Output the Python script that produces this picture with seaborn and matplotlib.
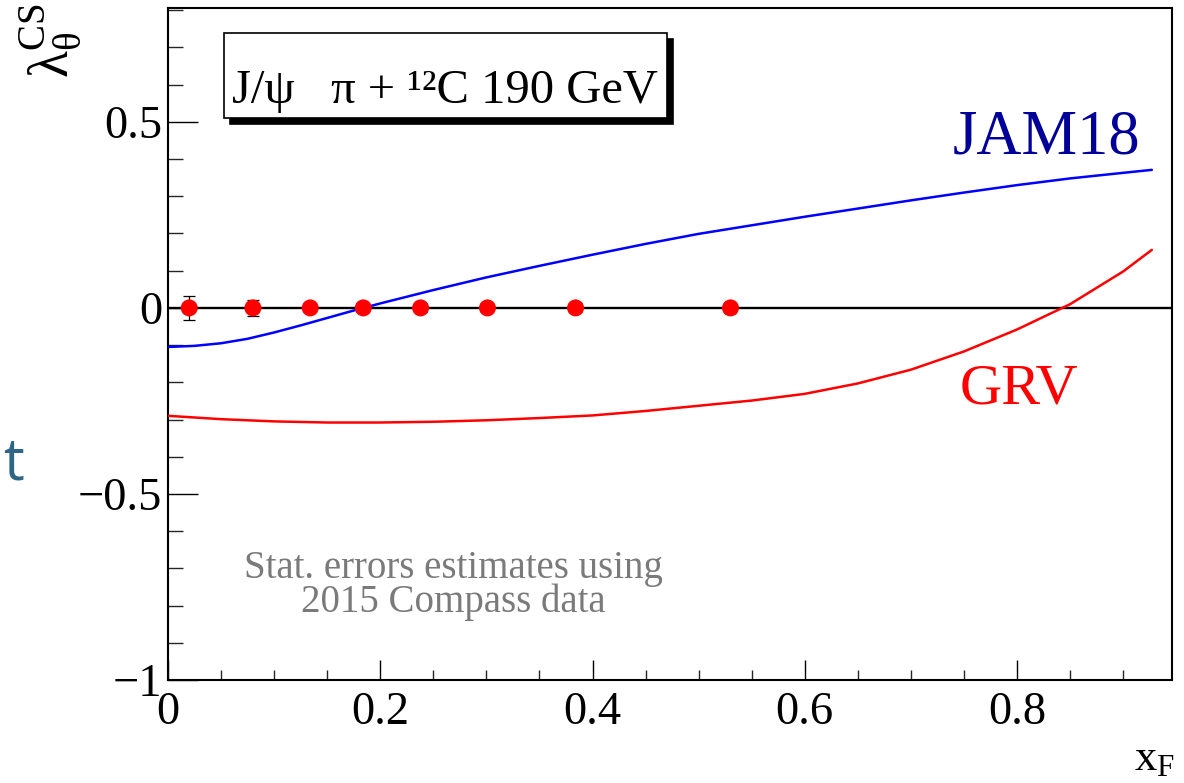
import matplotlib
matplotlib.use("Agg")
import matplotlib.pyplot as plt
import seaborn as sns
import pandas as pd
from matplotlib.patches import Rectangle
from matplotlib.ticker import MultipleLocator, FixedLocator, FixedFormatter

# ---------------- data ----------------
x_points = [0.020, 0.080, 0.134, 0.184, 0.238, 0.301, 0.384, 0.530]
y_points = [0.0, 0.0, 0.0, 0.0, 0.0, 0.0, 0.0, 0.0]
y_err = [0.033, 0.021, 0.012, 0.010, 0.010, 0.011, 0.012, 0.014]

x_jam = [0.0, 0.025, 0.05, 0.075, 0.10, 0.125, 0.15, 0.175, 0.20, 0.225, 0.25,
         0.275, 0.30, 0.35, 0.40, 0.45, 0.50, 0.55, 0.60, 0.65, 0.70, 0.75,
         0.80, 0.85, 0.90, 0.927]
y_jam = [-0.105, -0.102, -0.095, -0.083, -0.066, -0.047, -0.027, -0.007, 0.012,
         0.030, 0.048, 0.065, 0.082, 0.113, 0.143, 0.172, 0.199, 0.222, 0.245,
         0.267, 0.289, 0.310, 0.330, 0.348, 0.363, 0.371]

x_grv = [0.0, 0.05, 0.10, 0.15, 0.20, 0.25, 0.30, 0.35, 0.40, 0.45, 0.50, 0.55,
         0.60, 0.65, 0.70, 0.75, 0.80, 0.85, 0.90, 0.927]
y_grv = [-0.290, -0.299, -0.305, -0.308, -0.308, -0.306, -0.302, -0.296, -0.289,
         -0.277, -0.263, -0.249, -0.231, -0.203, -0.166, -0.117, -0.058, 0.010,
         0.098, 0.156]

x_ticks = [0, 0.2, 0.4, 0.6, 0.8]
x_tick_labels = ["0", "0.2", "0.4", "0.6", "0.8"]
y_ticks = [-1, -0.5, 0, 0.5]
y_tick_labels = ["\u22121", "\u22120.5", "0", "0.5"]

# ---------------- style ----------------
sns.set_theme(style="white")
plt.rcParams["font.family"] = ["Liberation Serif", "DejaVu Serif"]
plt.rcParams["mathtext.fontset"] = "custom"
plt.rcParams["mathtext.rm"] = "Liberation Serif"
plt.rcParams["mathtext.it"] = "Liberation Serif:italic"

W, H = 1184, 783
fig = plt.figure(figsize=(W / 100, H / 100), dpi=100)
fig.patch.set_facecolor("white")
ax = fig.add_axes([168 / W, (H - 680) / H, (1172 - 168) / W, (680 - 8) / H])
ax.set_facecolor("white")

df_jam = pd.DataFrame({"x": x_jam, "y": y_jam})
df_grv = pd.DataFrame({"x": x_grv, "y": y_grv})
df_pts = pd.DataFrame({"x": x_points, "y": y_points})

ax.axhline(0, color="black", lw=1.7, zorder=2)
sns.lineplot(data=df_jam, x="x", y="y", ax=ax, color="#0000ff", lw=1.8, zorder=3)
sns.lineplot(data=df_grv, x="x", y="y", ax=ax, color="#ff0000", lw=1.8, zorder=3)
ax.errorbar(x_points, y_points, yerr=y_err, fmt="none", ecolor="black",
            elinewidth=0.9, capsize=4, capthick=0.9, zorder=4)
sns.scatterplot(data=df_pts, x="x", y="y", ax=ax, color="#ff0000", s=150,
                edgecolor="none", linewidth=0, zorder=5)

ax.set_xlim(0, 0.946)
ax.set_ylim(-1, 0.806)
ax.set_xlabel("")
ax.set_ylabel("")

ax.xaxis.set_major_locator(FixedLocator(x_ticks))
ax.xaxis.set_major_formatter(FixedFormatter(x_tick_labels))
ax.yaxis.set_major_locator(FixedLocator(y_ticks))
ax.yaxis.set_major_formatter(FixedFormatter(y_tick_labels))
ax.xaxis.set_minor_locator(MultipleLocator(0.05))
ax.yaxis.set_minor_locator(MultipleLocator(0.1))

ax.tick_params(axis="x", which="major", direction="in", length=14.5, width=1.0,
               labelsize=33.5, pad=8, top=False, bottom=True, colors="black")
ax.tick_params(axis="x", which="minor", direction="in", length=7, width=1.0,
               top=False, bottom=True)
ax.tick_params(axis="y", which="major", direction="in", length=21.5, width=1.0,
               labelsize=33.5, pad=4, left=True, right=False, colors="black")
ax.tick_params(axis="y", which="minor", direction="in", length=11, width=1.0,
               left=True, right=False)
for sp in ax.spines.values():
    sp.set_visible(True)
    sp.set_color("black")
    sp.set_linewidth(1.5)

# labels
fig.text(50 / W, 1 - 3 / H, r"$\mathregular{λ_{θ}^{CS}}$", rotation=90,
         ha="center", va="top", fontsize=40, color="black")
fig.text(1175 / W, (H - 770) / H, r"$\mathregular{x_{F}}$", ha="right",
         va="baseline", fontsize=32, color="black")

# title box with shadow
bx0, bx1, by0, by1 = 224, 667, 33, 118
sh = 6
fig.patches.append(Rectangle(((bx0 + sh) / W, (H - by1 - sh) / H), (bx1 - bx0) / W,
                             (by1 - by0) / H, transform=fig.transFigure,
                             facecolor="black", edgecolor="black", lw=1.2, zorder=5))
fig.patches.append(Rectangle((bx0 / W, (H - by1) / H), (bx1 - bx0) / W,
                             (by1 - by0) / H, transform=fig.transFigure,
                             facecolor="white", edgecolor="black", lw=1.2, zorder=6))
fig.text(232 / W, (H - 103) / H, "J/\u03c8   \u03c0 + \u00b9\u00b2C 190 GeV",
         ha="left", va="baseline", fontsize=35, color="black", zorder=7)

# curve labels
fig.text(1140 / W, (H - 153) / H, "JAM18", ha="right", va="baseline",
         fontsize=45, color="#000099")
fig.text(1078 / W, (H - 403) / H, "GRV", ha="right", va="baseline",
         fontsize=42, color="#ff0000")

# note (single two-line text; baseline refers to the last line)
fig.text(453 / W, (H - 612) / H, "Stat. errors estimates using\n2015 Compass data",
         ha="center", va="baseline", multialignment="center", linespacing=0.87,
         fontsize=28, color="#7a7a7a")

# stray slide letter
fig.text(3 / W, (H - 480) / H, "t", ha="left", va="baseline", fontsize=42,
         color="#2f6585", family=["Open Sans", "DejaVu Sans"])

fig.savefig("out.png", dpi=100)
